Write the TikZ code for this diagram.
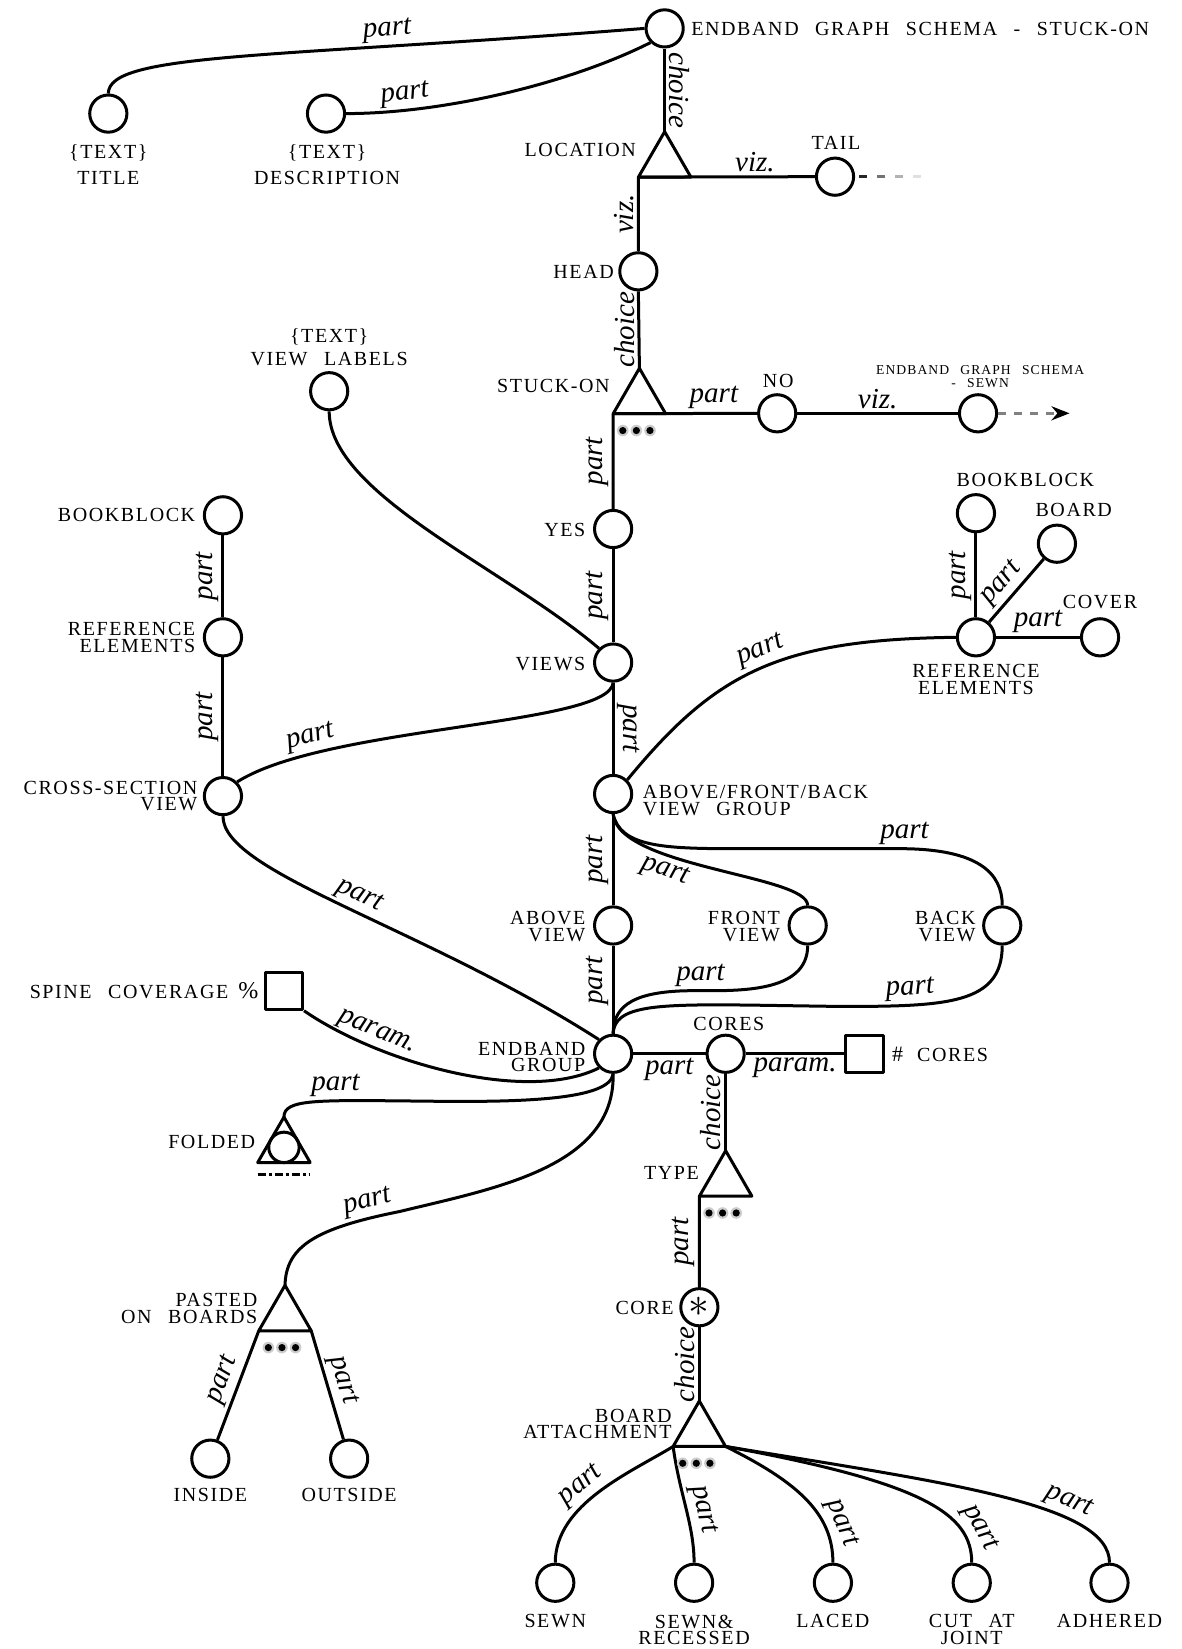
\documentclass[tikz,border=0pt]{standalone}
\usepackage{fontspec}
\setmainfont{Liberation Serif}
\newfontfamily\capsfont[LetterSpace=8,WordSpace=2.5]{Liberation Serif}
\usetikzlibrary{shapes.geometric,arrows.meta,positioning}

\tikzset{
  ent/.style={circle,draw,line width=1.5pt,minimum size=18.6pt,inner sep=0pt},
  prm/.style={rectangle,draw,line width=1.5pt,minimum size=18.6pt,inner sep=0pt},
  chc/.style={regular polygon,regular polygon sides=3,draw,line width=1.5pt,minimum size=30.3pt,inner sep=0pt,outer sep=0pt},
  capstext/.style={font=\capsfont\fontsize{10}{8.4}\selectfont,inner sep=0pt},
  lbl/.style={font=\itshape\fontsize{14.5}{14.5}\selectfont,inner sep=1.5pt},
  conn/.style={line width=1.5pt},
}

\begin{document}
\begin{tikzpicture}[x=0.5258pt,y=-0.5258pt,line join=round]
\useasboundingbox (0,0) rectangle (1123,1568);

% schema and its texts
\node[ent] (schema) at (632,27) {};
\node[capstext,anchor=west] (schemalbl) at (657,28) {ENDBAND GRAPH SCHEMA - STUCK-ON};
\node[ent] (title) at (103,108) {};
\node[capstext,align=center,anchor=north,font=\capsfont\fontsize{10}{13.1}\selectfont] (titlelbl) at (103,137) {\{TEXT\}\\TITLE};
\node[ent] (desc) at (310,108) {};
\node[capstext,align=center,anchor=north,font=\capsfont\fontsize{10}{13.1}\selectfont] (desclbl) at (311,137) {\{TEXT\}\\DESCRIPTION};

% location / stuck-on spine
\node[chc] (location) at (632,154) {};
\node[capstext,anchor=east] (locationlbl) at (605,143) {LOCATION};
\node[ent] (tail) at (794,168) {};
\node[capstext,anchor=south] (taillbl) at (795,143) {TAIL};
\node[ent] (head) at (607,258) {};
\node[capstext,anchor=east] (headlbl) at (584,259) {HEAD};
\node[chc] (stuck) at (608,379) {};
\node[capstext,anchor=east] (stucklbl) at (580,367) {STUCK-ON};
\node[ent] (no) at (739,393) {};
\node[capstext,anchor=south] (nolbl) at (740,369) {NO};
\node[ent] (sewnschema) at (930,393) {};
\node[capstext,align=center,font=\capsfont\fontsize{6.8}{6.6}\selectfont] (sewnschemalbl) at (932,358) {ENDBAND GRAPH SCHEMA\\- SEWN};
\coordinate (sewnend) at (1017,393);
\node[ent] (yes) at (583,503) {};
\node[capstext,anchor=east] (yeslbl) at (557,504) {YES};
\node[ent] (views) at (583,630) {};
\node[capstext,anchor=east] (viewslbl) at (557,631) {VIEWS};
\node[ent] (viewlabels) at (313,372) {};
\node[capstext,align=center,font=\capsfont\fontsize{10}{11.5}\selectfont] (viewlabelslbl) at (313,330) {\{TEXT\}\\VIEW LABELS};

% cross-section column
\node[ent] (bookblockL) at (212,490) {};
\node[capstext,anchor=east] (bookblockLlbl) at (186,490) {BOOKBLOCK};
\node[ent] (refL) at (212,606) {};
\node[capstext,align=right,anchor=east] (refLlbl) at (186,606) {REFERENCE\\ELEMENTS};
\node[ent] (cross) at (212,757) {};
\node[capstext,align=right,anchor=east] (crosslbl) at (188,757) {CROSS-SECTION\\VIEW};

% view group
\node[ent] (afb) at (583,755) {};
\node[capstext,align=left,anchor=west] (afblbl) at (611,761) {ABOVE/FRONT/BACK\\VIEW GROUP};
\node[ent] (refR) at (928,606) {};
\node[capstext,align=center,anchor=north] (refRlbl) at (928,631) {REFERENCE\\ELEMENTS};
\node[ent] (bookblockR) at (928,488) {};
\node[capstext,anchor=south] (bookblockRlbl) at (975,463) {BOOKBLOCK};
\node[ent] (board) at (1005,517) {};
\node[capstext,anchor=south] (boardlbl) at (1021,492) {BOARD};
\node[ent] (cover) at (1046,606) {};
\node[capstext,anchor=south] (coverlbl) at (1046,579) {COVER};
\node[ent] (above) at (583,880) {};
\node[capstext,align=right,anchor=east] (abovelbl) at (557,881) {ABOVE\\VIEW};
\node[ent] (front) at (768,880) {};
\node[capstext,align=right,anchor=east] (frontlbl) at (742,881) {FRONT\\VIEW};
\node[ent] (back) at (953,880) {};
\node[capstext,align=right,anchor=east] (backlbl) at (928,881) {BACK\\VIEW};

% endband group
\node[ent] (endband) at (583,1002) {};
\node[capstext,align=right,anchor=east] (endbandlbl) at (557,1005) {ENDBAND\\GROUP};
\node[prm] (spine) at (270,942) {};
\node[capstext,anchor=east] (spinelbl) at (246,942) {SPINE COVERAGE\hspace{5pt}{\fontsize{12}{12}\selectfont\%}};
\node[ent] (cores) at (690,1002) {};
\node[capstext,anchor=south] (coreslbl) at (693,980) {CORES};
\node[prm] (ncores) at (822,1002) {};
\node[capstext,anchor=west] (ncoreslbl) at (848,1003) {{\fontsize{11}{11}\selectfont\#}\hspace{7pt}CORES};
\node[chc] (type) at (690,1123) {};
\node[capstext,anchor=east] (typelbl) at (665,1115) {TYPE};
\node[ent] (core) at (665,1243) {\fontsize{21}{21}\selectfont$\ast$};
\node[capstext,anchor=east] (corelbl) at (641,1244) {CORE};
\node[chc] (attach) at (665,1361) {};
\node[capstext,align=right,anchor=east] (attachlbl) at (639,1354) {BOARD\\ATTACHMENT};
\node[ent] (sewn) at (528,1505) {};
\node[capstext,anchor=north] (sewnlbl) at (528,1535) {SEWN};
\node[ent] (sewnrec) at (660,1505) {};
\node[capstext,align=center,anchor=north] (sewnreclbl) at (660,1535) {SEWN\&\\RECESSED};
\node[ent] (laced) at (792,1505) {};
\node[capstext,anchor=north] (lacedlbl) at (792,1535) {LACED};
\node[ent] (cut) at (924,1505) {};
\node[capstext,align=center,anchor=north] (cutlbl) at (924,1535) {CUT AT\\JOINT};
\node[ent] (adhered) at (1055,1505) {};
\node[capstext,anchor=north] (adheredlbl) at (1055,1535) {ADHERED};

% folded and pasted
\node[chc] (folded) at (270,1091) {};
\node[ent,minimum size=15.2pt] (foldedin) at (folded.center) {};
\node[capstext,anchor=east] (foldedlbl) at (243,1086) {FOLDED};
\node[chc] (pasted) at (271,1251) {};
\node[capstext,align=right,anchor=east] (pastedlbl) at (245,1244) {PASTED\\ON BOARDS};
\node[ent] (inside) at (200,1387) {};
\node[capstext,anchor=north] (insidelbl) at (200,1415) {INSIDE};
\node[ent] (outside) at (332,1387) {};
\node[capstext,anchor=north] (outsidelbl) at (332,1415) {OUTSIDE};

% connectors
\draw[conn] (schema.west) .. controls (260,55) and (103,50) .. node[lbl,pos=0.27,sloped,anchor=south] {part} (title.north);
\draw[conn] (schema.south west) .. controls (540,80) and (420,108) .. node[lbl,pos=0.8,sloped,anchor=south] {part} (desc.east);
\draw[conn] (schema.south) -- node[lbl,midway,rotate=-90,anchor=south] {choice} (location.corner 1);
\draw[conn] (location.corner 2) -- node[lbl,pos=0.66,anchor=south] {viz.} (tail.west);
\draw[conn] (location.corner 2) -- node[lbl,midway,rotate=90,anchor=south] {viz.} (head.north);
\draw[conn] (head.south) -- node[lbl,midway,rotate=90,anchor=south] {choice} (stuck.corner 1);
\draw[conn] (stuck.corner 2) -- node[lbl,pos=0.7,anchor=south] {part} (no.west);
\draw[conn] (no.east) -- node[lbl,midway,anchor=south] {viz.} (sewnschema.west);
\draw[conn] (stuck.corner 2) -- node[lbl,midway,rotate=90,anchor=south] {part} (yes.north);
\draw[conn] (yes.south) -- node[lbl,midway,rotate=90,anchor=south] {part} (views.north);
\draw[conn] (viewlabels.south) .. controls (313,470) and (480,540) .. (views.north west);
\draw[conn] (views.south) -- node[lbl,midway,rotate=-90,anchor=south] {part} (afb.north);
\draw[conn] (views.south) .. controls (580,690) and (310,690) .. node[lbl,pos=0.79,sloped,anchor=south] {part} (cross.north east);
\draw[conn] (bookblockL.south) -- node[lbl,midway,rotate=90,anchor=south] {part} (refL.north);
\draw[conn] (refL.south) -- node[lbl,midway,rotate=90,anchor=south] {part} (cross.north);
\draw[conn] (cross.south) .. controls (212,830) and (400,880) .. node[lbl,pos=0.52,sloped,anchor=south] {part} (endband.north west);
\draw[conn] (afb.north east) .. controls (680,640) and (740,608) .. node[lbl,pos=0.53,sloped,anchor=south] {part} (refR.west);
\draw[conn] (bookblockR.south) -- node[lbl,midway,rotate=90,anchor=south] {part} (refR.north);
\draw[conn] (refR) -- node[lbl,pos=0.45,sloped,anchor=south] {part} (board);
\draw[conn] (refR.east) -- node[lbl,midway,anchor=south] {part} (cover.west);
\draw[conn] (afb.south) -- node[lbl,midway,rotate=90,anchor=south] {part} (above.north);
\draw[conn] (afb.south) .. controls (588,825) and (768,832) .. node[lbl,pos=0.35,sloped,anchor=north] {part} (front.north);
\draw[conn] (afb.south) .. controls (590,805) and (630,807) .. (700,807) -- node[lbl,pos=1,anchor=south] {part} (860,807) .. controls (930,808) and (953,830) .. (back.north);
\draw[conn] (above.south) -- node[lbl,pos=0.4,rotate=90,anchor=south] {part} (endband.north);
\draw[conn] (front.south) .. controls (768,945) and (700,942) .. node[lbl,pos=0.95,anchor=south] {part} (660,942) .. controls (605,942) and (583,955) .. (endband.north);
\draw[conn] (back.south) .. controls (953,955) and (900,957) .. node[lbl,pos=0.75,sloped,anchor=south] {part} (800,957) .. controls (640,955) and (585,950) .. (endband.north);
\draw[conn] (spine.south east) .. controls (360,1010) and (500,1050) .. node[lbl,pos=0.25,sloped,anchor=south] {param.} (endband.south west);
\draw[conn] (endband.east) -- node[lbl,midway,anchor=north] {part} (cores.west);
\draw[conn] (cores.east) -- node[lbl,midway,anchor=north] {param.} (ncores.west);
\draw[conn] (cores.south) -- node[lbl,midway,rotate=90,anchor=south] {choice} (type.corner 1);
\draw[conn] (type.corner 2) -- node[lbl,midway,rotate=90,anchor=south] {part} (core.north);
\draw[conn] (core.south) -- node[lbl,midway,rotate=90,anchor=south] {choice} (attach.corner 1);
\draw[conn] (attach.corner 2) .. controls (600,1400) and (528,1430) .. node[lbl,pos=0.55,sloped,anchor=south] {part} (sewn.north);
\draw[conn] (attach.corner 2) .. controls (646,1420) and (660,1450) .. node[lbl,pos=0.55,sloped,anchor=south] {part} (sewnrec.north);
\draw[conn] (attach.corner 3) .. controls (760,1410) and (792,1440) .. node[lbl,pos=0.75,sloped,anchor=south] {part} (laced.north);
\draw[conn] (attach.corner 3) .. controls (880,1410) and (924,1440) .. node[lbl,pos=0.8,sloped,anchor=south] {part} (cut.north);
\draw[conn] (attach.corner 3) .. controls (900,1410) and (1055,1430) .. node[lbl,pos=0.68,sloped,anchor=south] {part} (adhered.north);
\draw[conn] (endband.south) .. controls (580,1048) and (480,1048) .. (400,1047) .. controls (300,1046) and (270,1045) .. node[lbl,pos=0.35,anchor=south] {part} (folded.corner 1);
\draw[conn] (endband.south) .. controls (585,1110) and (470,1130) .. (380,1152) .. controls (300,1168) and (272,1185) .. node[lbl,pos=0.12,sloped,anchor=south] {part} (pasted.corner 1);
\draw[conn] (pasted.corner 2) -- node[lbl,midway,sloped,anchor=south] {part} (inside);
\draw[conn] (pasted.corner 3) -- node[lbl,midway,sloped,anchor=south] {part} (outside);

% continuation marks
\foreach \k/\c in {0/black!85,1/black!55,2/black!30,3/black!12}
  \draw[line width=1.5pt,\c] ([xshift={2pt+\k*9pt}]tail.east) -- ++(4pt,0);
\draw[line width=1.5pt,gray,dash pattern=on 4pt off 4pt,-{Stealth[black,length=9pt,width=7pt]}] (sewnschema.east) -- (sewnend);

% more-children dots and folded mark
\foreach \t in {stuck,type,attach,pasted}
  \foreach \i in {0,1,2} {
    \fill[black!20] ([xshift={4.8pt+\i*6.8pt},yshift=-8.4pt]\t.corner 2) circle (2.9pt);
    \fill ([xshift={4.8pt+\i*6.8pt},yshift=-8.4pt]\t.corner 2) circle (1.8pt);
  }
\draw[line width=1.5pt,dash pattern=on 4pt off 1.5pt on 1.5pt off 1.5pt] ([yshift=-6pt]folded.corner 2) -- ([yshift=-6pt]folded.corner 3);
\end{tikzpicture}
\end{document}
